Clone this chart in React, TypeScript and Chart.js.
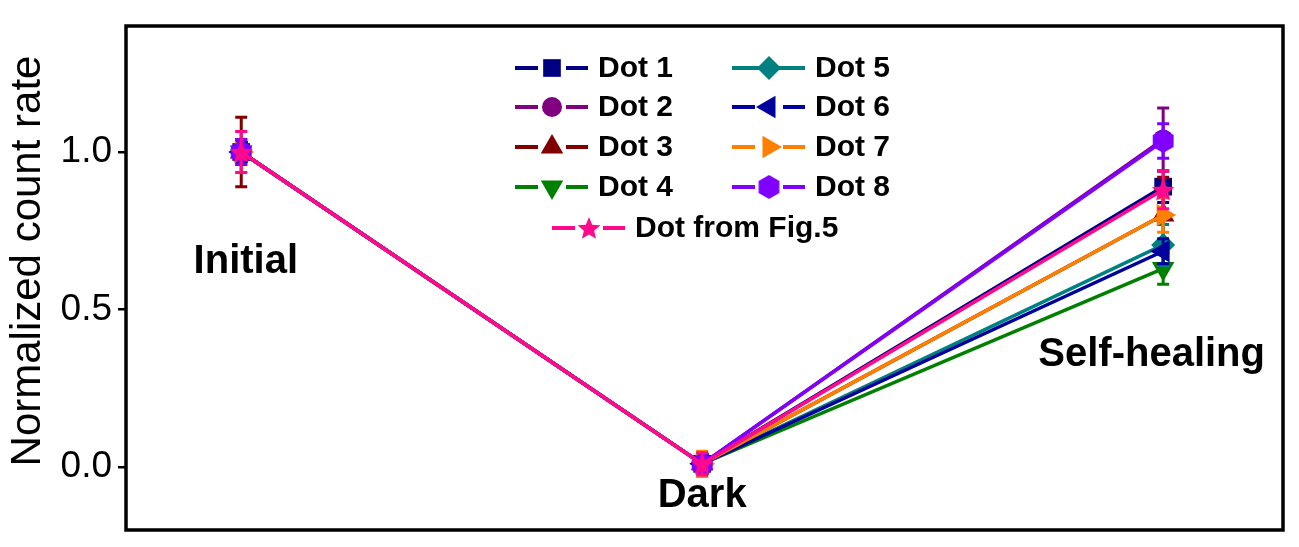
import React, { useEffect, useRef } from 'react';
import { Chart, registerables } from 'chart.js';
import { drawPoint } from 'chart.js/helpers';

Chart.register(...registerables);

// ---------- data ----------
const categories = ['Initial', 'Dark', 'Self-healing'];
const categoryX = [1, 2, 3];
const seriesNames = ['Dot 1', 'Dot 2', 'Dot 3', 'Dot 4', 'Dot 5', 'Dot 6', 'Dot 7', 'Dot 8', 'Dot from Fig.5'];
const yTitle = 'Normalized count rate';

const dot1 = [1.0, 0.01, 0.89];
const dot2 = [1.0, 0.01, 1.04];
const dot3 = [1.0, 0.01, 0.8];
const dot4 = [1.0, 0.01, 0.63];
const dot5 = [1.0, 0.01, 0.705];
const dot6 = [1.0, 0.01, 0.685];
const dot7 = [1.0, 0.01, 0.8];
const dot8 = [1.0, 0.01, 1.035];
const dotFig5 = [1.0, 0.01, 0.88];

const dot1Err = [0.03, 0.02, 0.05];
const dot2Err = [0.04, 0.02, 0.1];
const dot3Err = [0.11, 0.03, 0.12];
const dot4Err = [0.03, 0.02, 0.05];
const dot5Err = [0.03, 0.02, 0.065];
const dot6Err = [0.03, 0.02, 0.04];
const dot7Err = [0.065, 0.04, 0.055];
const dot8Err = [0.04, 0.02, 0.055];
const dotFig5Err = [0.065, 0.035, 0.06];

const seriesValues = [dot1, dot2, dot3, dot4, dot5, dot6, dot7, dot8, dotFig5];
const seriesErrors = [dot1Err, dot2Err, dot3Err, dot4Err, dot5Err, dot6Err, dot7Err, dot8Err, dotFig5Err];

const yTicks = [0, 0.5, 1.0];

// ---------- styles ----------
const FONT = "'Liberation Sans', Arial, Helvetica, sans-serif";
const colors = ['#000080', '#800080', '#800000', '#008000', '#008080', '#00009C', '#FF8000', '#8000FF', '#FF0A8C'];
const markerStyles = ['rect', 'circle', 'triangle', 'triangle', 'rectRot', 'triangle', 'triangle', 'hexagon', 'star'];
const markerRotations = [0, 0, 0, 180, 0, -90, 90, 0, 0];
const markerRadii = [12.5, 10, 13, 13, 12, 13, 13, 12, 12];
// annotation placement (data coordinates) for category captions
const captionX = [1.01, 2.0, 2.975];
const captionY = [0.65, -0.092, 0.356];

function makeHexagon(color: string, r: number) {
  const c = document.createElement('canvas');
  const w = Math.ceil(2 * r * Math.cos(Math.PI / 6)) + 2;
  const h = Math.ceil(2 * r) + 2;
  c.width = w; c.height = h;
  const g = c.getContext('2d')!;
  g.fillStyle = color;
  g.beginPath();
  for (let k = 0; k < 6; k++) {
    const a = -Math.PI / 2 + (k * Math.PI) / 3;
    const px = w / 2 + r * Math.cos(a);
    const py = h / 2 + r * Math.sin(a);
    if (k === 0) g.moveTo(px, py); else g.lineTo(px, py);
  }
  g.closePath();
  g.fill();
  return c;
}

function makeStar(color: string, ro: number, ri: number) {
  const c = document.createElement('canvas');
  const s = Math.ceil(2 * ro) + 2;
  c.width = s; c.height = s;
  const g = c.getContext('2d')!;
  g.fillStyle = color;
  g.beginPath();
  for (let k = 0; k < 10; k++) {
    const a = -Math.PI / 2 + (k * Math.PI) / 5;
    const r = k % 2 === 0 ? ro : ri;
    const px = s / 2 + r * Math.cos(a);
    const py = s / 2 + 1 + r * Math.sin(a);
    if (k === 0) g.moveTo(px, py); else g.lineTo(px, py);
  }
  g.closePath();
  g.fill();
  return c;
}

const errorBarPlugin = {
  id: 'errorBars',
  beforeDatasetDraw(chart: any, args: any) {
    const ds = chart.data.datasets[args.index];
    const errs: number[] = ds.errors;
    if (!errs) return;
    const { ctx } = chart;
    const xs = chart.scales.x;
    const ys = chart.scales.y;
    ctx.save();
    ctx.strokeStyle = ds.borderColor;
    ctx.lineWidth = 3;
    ds.data.forEach((p: any, i: number) => {
      const px = xs.getPixelForValue(p.x);
      const top = ys.getPixelForValue(p.y + errs[i]);
      const bot = ys.getPixelForValue(p.y - errs[i]);
      ctx.beginPath();
      ctx.moveTo(px, top);
      ctx.lineTo(px, bot);
      ctx.moveTo(px - 6, top);
      ctx.lineTo(px + 6, top);
      ctx.moveTo(px - 6, bot);
      ctx.lineTo(px + 6, bot);
      ctx.stroke();
    });
    ctx.restore();
  },
};

const framePlugin = {
  id: 'frame',
  afterDraw(chart: any) {
    const { ctx, chartArea: a } = chart;
    ctx.save();
    ctx.strokeStyle = '#000';
    ctx.lineWidth = 3.5;
    ctx.strokeRect(a.left, a.top, a.right - a.left, a.bottom - a.top);
    // y-axis title, centred on the reference's vertical position
    ctx.fillStyle = '#000';
    ctx.font = `42px ${FONT}`;
    ctx.textAlign = 'center';
    ctx.textBaseline = 'middle';
    ctx.translate(28, 261);
    ctx.rotate(-Math.PI / 2);
    ctx.fillText(yTitle, 0, 0);
    ctx.restore();
  },
};

const captionPlugin = {
  id: 'captions',
  afterDraw(chart: any) {
    const { ctx } = chart;
    const xs = chart.scales.x;
    const ys = chart.scales.y;
    ctx.save();
    ctx.fillStyle = '#000';
    ctx.font = `bold 40px ${FONT}`;
    ctx.textAlign = 'center';
    ctx.textBaseline = 'middle';
    categories.forEach((t, i) => {
      ctx.fillText(t, xs.getPixelForValue(captionX[i]), ys.getPixelForValue(captionY[i]));
    });
    ctx.restore();
  },
};

const legendPlugin = {
  id: 'customLegend',
  afterDraw(chart: any) {
    const { ctx } = chart;
    const rows = [68, 107, 147, 187, 228];
    ctx.save();
    ctx.font = `bold 30px ${FONT}`;
    ctx.textBaseline = 'middle';
    ctx.textAlign = 'left';
    chart.data.datasets.forEach((ds: any, i: number) => {
      let x0: number, cy: number;
      if (i < 4) { x0 = 515; cy = rows[i]; }
      else if (i < 8) { x0 = 732; cy = rows[i - 4]; }
      else { x0 = 552; cy = rows[4]; }
      const x1 = x0 + 73;
      const cx = x0 + 37;
      const gap = i === 4 ? 0 : 14;
      ctx.strokeStyle = ds.borderColor;
      ctx.lineWidth = 4;
      ctx.beginPath();
      if (gap > 0) {
        ctx.moveTo(x0, cy); ctx.lineTo(cx - gap, cy);
        ctx.moveTo(cx + gap, cy); ctx.lineTo(x1, cy);
      } else {
        ctx.moveTo(x0, cy); ctx.lineTo(x1, cy);
      }
      ctx.stroke();
      ctx.fillStyle = ds.pointBackgroundColor;
      drawPoint(ctx, { pointStyle: ds.pointStyle, rotation: ds.pointRotation, radius: ds.pointRadius, borderWidth: 0 } as any, cx, cy);
      ctx.fillStyle = '#000';
      ctx.fillText(ds.label, x1 + 10, cy + 1);
    });
    ctx.restore();
  },
};

export default function App() {
  const ref = useRef<HTMLCanvasElement>(null);
  useEffect(() => {
    if (!ref.current) return;
    const styleFor = (i: number): any => {
      if (markerStyles[i] === 'hexagon') return makeHexagon(colors[i], markerRadii[i]);
      if (markerStyles[i] === 'star') return makeStar(colors[i], markerRadii[i], markerRadii[i] * 0.45);
      return markerStyles[i];
    };
    const datasets = seriesNames.map((name, i) => ({
      label: name,
      data: categoryX.map((x, j) => ({ x, y: seriesValues[i][j] })),
      errors: seriesErrors[i],
      borderColor: colors[i],
      backgroundColor: colors[i],
      pointBackgroundColor: colors[i],
      pointBorderColor: colors[i],
      pointBorderWidth: 0,
      pointStyle: styleFor(i),
      pointRotation: markerRotations[i],
      pointRadius: markerRadii[i],
      borderWidth: 3.5,
      tension: 0,
      order: seriesNames.length - 1 - i,
      clip: false,
    }));
    const chart = new Chart(ref.current, {
      type: 'line',
      data: { datasets } as any,
      options: {
        animation: false,
        responsive: false,
        events: [],
        layout: { padding: { left: 0, top: 26, right: 16, bottom: 17 } },
        plugins: { legend: { display: false }, tooltip: { enabled: false } },
        scales: {
          x: { type: 'linear', min: 0.75, max: 3.26, display: false },
          y: {
            type: 'linear',
            min: -0.2,
            max: 1.4,
            afterBuildTicks: (s: any) => { s.ticks = yTicks.map((v) => ({ value: v })); },
            afterFit: (s: any) => { s.width = 126; s.paddingTop = 0; s.paddingBottom = 0; },
            ticks: {
              font: { family: FONT, size: 37 },
              color: '#000',
              padding: 6,
              callback: (v: any) => Number(v).toFixed(1),
            },
            grid: { drawOnChartArea: false, drawTicks: true, tickLength: 8, color: '#000', lineWidth: 2.5 },
            border: { display: false },
            title: { display: false },
          },
        },
      } as any,
      plugins: [errorBarPlugin, framePlugin, captionPlugin, legendPlugin],
    });
    return () => chart.destroy();
  }, []);
  return (
    <div style={{ position: 'absolute', left: 0, top: 0, width: 1299, height: 547, background: '#fff' }}>
      <canvas ref={ref} width={1299} height={547} style={{ display: 'block' }} />
    </div>
  );
}
